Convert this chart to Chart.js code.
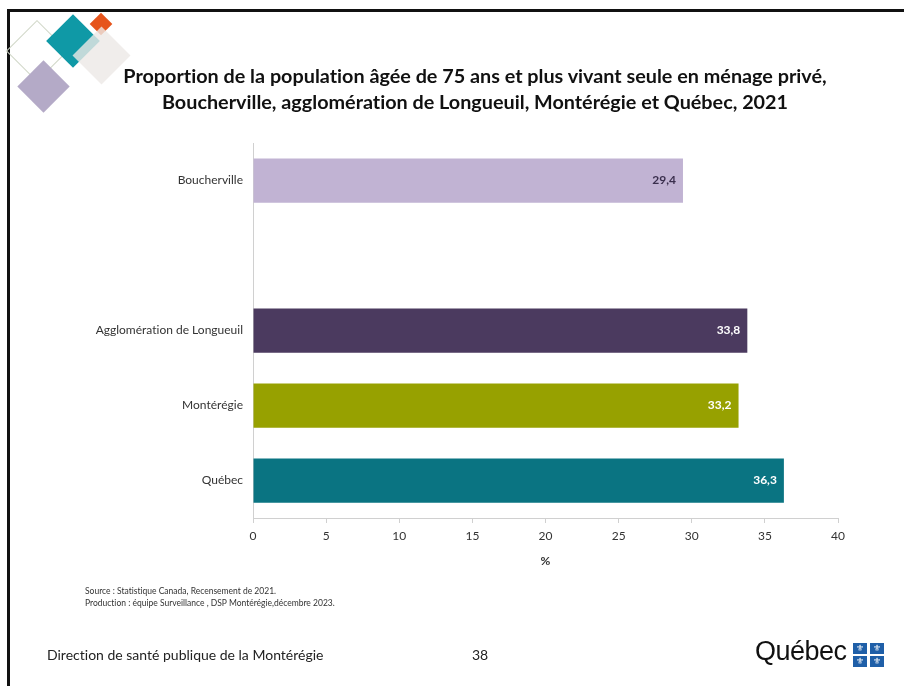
<!DOCTYPE html>
<html><head><meta charset="utf-8">
<script src="https://cdn.jsdelivr.net/npm/chart.js@4/dist/chart.umd.min.js"></script>
<style>
html,body{margin:0;padding:0;background:#fff;}
body{width:904px;height:686px;position:relative;overflow:hidden;font-family:Lato,"Open Sans",sans-serif;font-variant-ligatures:none;}
#frame{position:absolute;left:7px;top:9px;width:1000px;height:800px;border-left:3px solid #111;border-top:3px solid #111;}
#c{position:absolute;left:0;top:0;}
.d{position:absolute;transform:rotate(45deg);box-sizing:border-box;}
#title{position:absolute;left:75px;width:800px;top:62px;text-align:center;font-weight:bold;font-size:19.8px;line-height:26px;color:#111;}
#src{position:absolute;left:85px;top:585px;font-size:8.5px;line-height:12px;color:#333;}
#foot{position:absolute;left:47px;top:646px;font-size:14px;color:#222;}
#page{position:absolute;left:472px;top:646px;font-size:14px;color:#222;}
#qlogo{position:absolute;left:755px;top:636px;font-family:"Liberation Sans",sans-serif;font-size:27px;color:#111;letter-spacing:-0.5px;}
.fl{position:absolute;width:14px;height:11px;background:#1f5fa8;color:#fff;font-size:9px;line-height:11px;text-align:center;font-family:"DejaVu Sans";}
</style></head><body>
<div id="frame"></div>
<div class="d" style="left:15px;top:29px;width:44px;height:44px;border:1.5px solid #cfd6c6;"></div>
<div class="d" style="left:24.5px;top:67.5px;width:37px;height:37px;background:#b4aac7;"></div>
<div class="d" style="left:54px;top:22px;width:38px;height:38px;background:#0f99a6;"></div>
<div class="d" style="left:93px;top:16px;width:16px;height:16px;background:#e6541b;"></div>
<div class="d" style="left:80.5px;top:34.5px;width:41px;height:41px;background:rgba(236,232,230,0.8);"></div>
<canvas id="c" width="904" height="686"></canvas>
<div id="title">Proportion de la population âgée de 75 ans et plus vivant seule en ménage privé,<br>Boucherville, agglomération de Longueuil, Montérégie et Québec, 2021</div>
<div id="src">Source : Statistique Canada, Recensement de 2021.<br>Production : équipe Surveillance , DSP Montérégie,décembre 2023.</div>
<div id="foot">Direction de santé publique de la Montérégie</div>
<div id="page">38</div>
<div id="qlogo">Québec</div>
<div class="fl" style="left:853px;top:643px;">⚜</div>
<div class="fl" style="left:870px;top:643px;">⚜</div>
<div class="fl" style="left:853px;top:656px;">⚜</div>
<div class="fl" style="left:870px;top:656px;">⚜</div>
<script>
const categories = ["Boucherville", "", "Agglomération de Longueuil", "Montérégie", "Québec"];
const values = [29.4, null, 33.8, 33.2, 36.3];
const barColors = ["#c1b3d3", "#ffffff", "#4b3a5f", "#97a100", "#0a7482"];
const labelColors = ["#3a2f4d", "#ffffff", "#ffffff", "#ffffff", "#ffffff"];
const xTicks = [0, 5, 10, 15, 20, 25, 30, 35, 40];

const valueLabels = {
  id: 'valueLabels',
  afterDatasetsDraw(chart) {
    const ctx = chart.ctx;
    const meta = chart.getDatasetMeta(0);
    ctx.save();
    ctx.font = 'bold 12px Lato, "Open Sans", sans-serif';
    ctx.textAlign = 'right';
    ctx.textBaseline = 'middle';
    meta.data.forEach((bar, i) => {
      const v = values[i];
      if (v === null) return;
      ctx.fillStyle = labelColors[i];
      ctx.fillText(v.toFixed(1).replace('.', ','), bar.x - 7, bar.y);
    });
    ctx.restore();
  }
};

new Chart(document.getElementById('c'), {
  type: 'bar',
  data: {
    labels: categories,
    datasets: [{
      data: values,
      backgroundColor: barColors,
      borderWidth: 0,
      barPercentage: 0.59,
      categoryPercentage: 1.0
    }]
  },
  options: {
    indexAxis: 'y',
    responsive: false,
    animation: false,
    layout: { padding: { left: 0, right: 66, top: 143, bottom: 118 } },
    plugins: { legend: { display: false }, tooltip: { enabled: false } },
    scales: {
      x: {
        min: 0, max: 40,
        afterBuildTicks(scale) { scale.ticks = xTicks.map(v => ({ value: v })); },
        afterFit(scale) { scale.height = 50; },
        grid: { display: true, drawOnChartArea: false, drawTicks: true, tickLength: 5, color: '#d0d0d0' },
        border: { color: '#d0d0d0', width: 1 },
        ticks: { color: '#333', font: { family: 'Lato, "Open Sans", sans-serif', size: 12 }, padding: 6, maxRotation: 0 },
        title: { display: true, text: '%', color: '#333', font: { family: 'Lato, "Open Sans", sans-serif', size: 12, weight: 'bold' }, padding: { top: 3, bottom: 0 } }
      },
      y: {
        afterFit(scale) { scale.width = 253; },
        grid: { display: false, drawTicks: false },
        border: { color: '#d0d0d0', width: 1 },
        ticks: { color: '#333', font: { family: 'Lato, "Open Sans", sans-serif', size: 12 }, padding: 10 }
      }
    }
  },
  plugins: [valueLabels]
});
</script>
</body></html>
